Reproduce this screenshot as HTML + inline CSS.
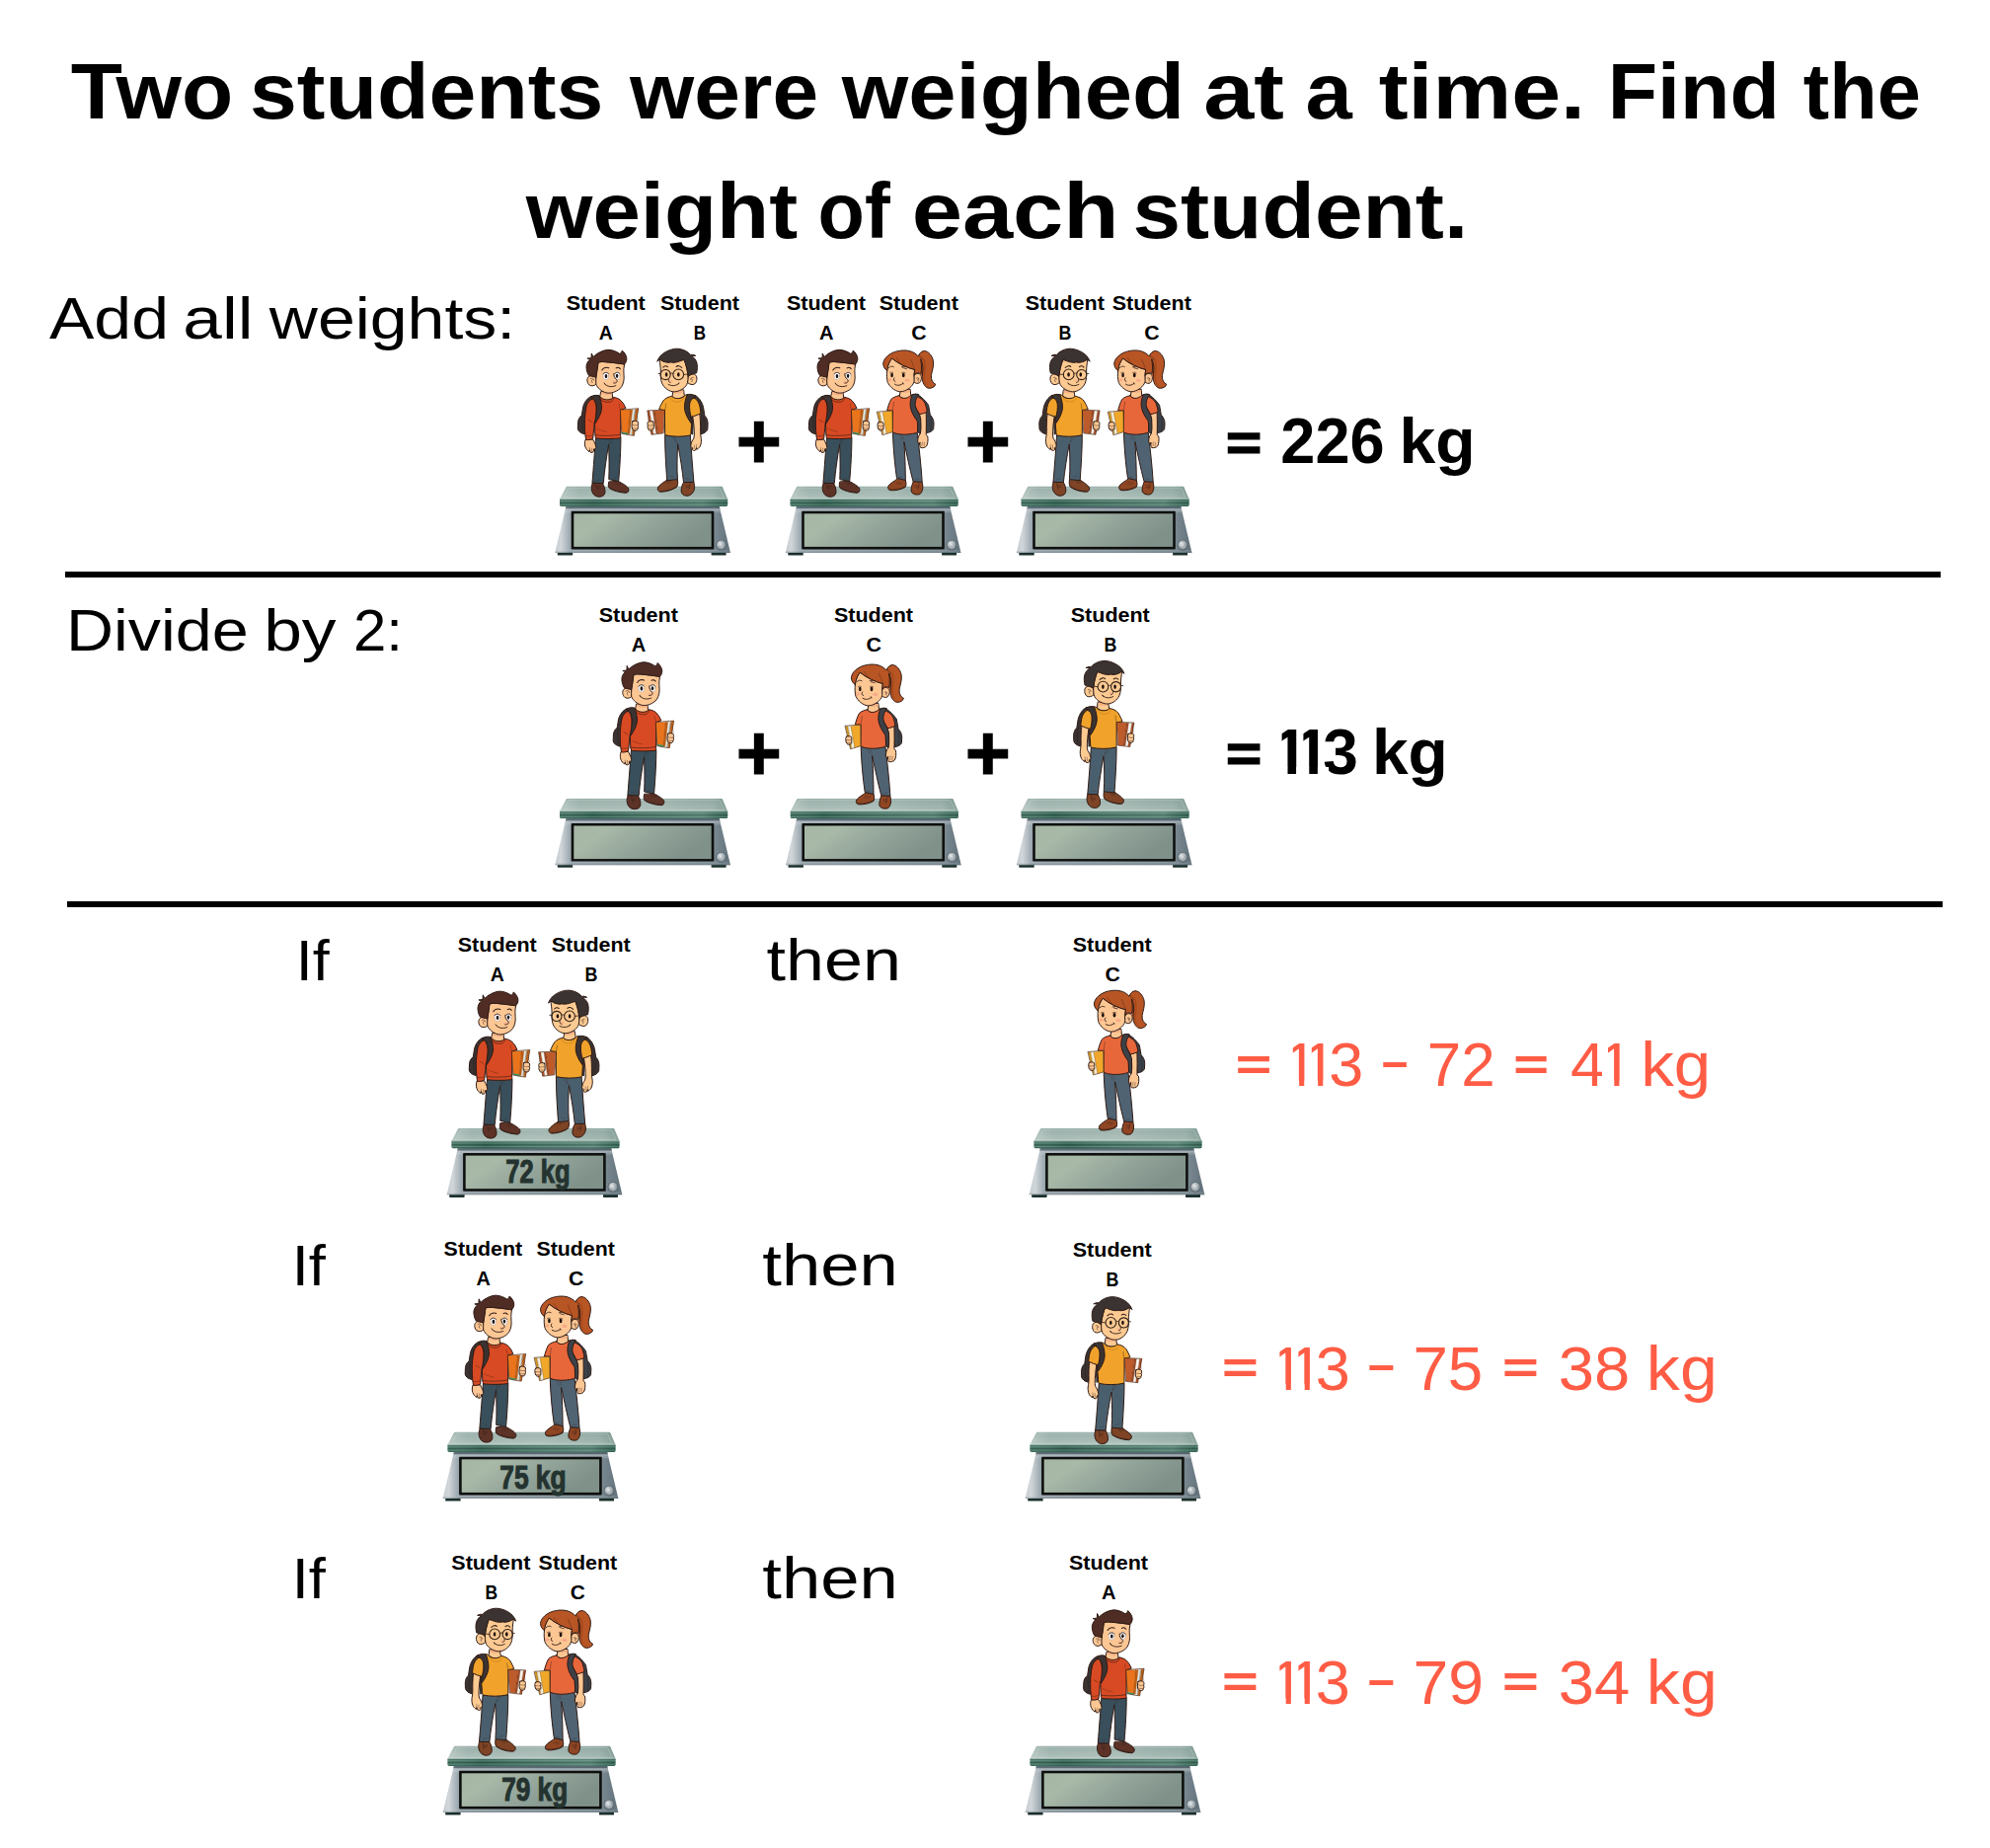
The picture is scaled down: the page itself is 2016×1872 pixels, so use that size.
<!DOCTYPE html><html><head><meta charset="utf-8"><title>Two students were weighed at a time</title>
<style>html,body{margin:0;padding:0;background:#fff}body{width:2016px;height:1872px;overflow:hidden}svg{display:block}text{font-family:"Liberation Sans", sans-serif;white-space:pre}</style></head><body>
<svg width="2016" height="1872" viewBox="0 0 2016 1872">
<defs><linearGradient id="gTop" x1="0" y1="0" x2="0" y2="1"><stop offset="0" stop-color="#92a9a4"/><stop offset=".15" stop-color="#9ab0aa"/><stop offset=".8" stop-color="#a8bbb5"/><stop offset="1" stop-color="#b5c6c1"/></linearGradient>
<linearGradient id="gTopH" x1="0" y1="0" x2="1" y2="0"><stop offset="0" stop-color="#fff" stop-opacity=".22"/><stop offset=".12" stop-color="#fff" stop-opacity=".02"/><stop offset=".55" stop-color="#fff" stop-opacity=".08"/><stop offset=".9" stop-color="#2c5a4e" stop-opacity=".05"/><stop offset="1" stop-color="#2c5a4e" stop-opacity=".25"/></linearGradient>
<linearGradient id="gEdge" x1="0" y1="0" x2="0" y2="1"><stop offset="0" stop-color="#4f7d6e"/><stop offset=".14" stop-color="#2f5c4d"/><stop offset=".3" stop-color="#63907f"/><stop offset=".46" stop-color="#2d594a"/><stop offset=".6" stop-color="#2b5647"/><stop offset=".76" stop-color="#5d8b7b"/><stop offset=".9" stop-color="#315e4f"/><stop offset="1" stop-color="#3b6858"/></linearGradient>
<linearGradient id="gEdgeH" x1="0" y1="0" x2="1" y2="0"><stop offset="0" stop-color="#9fc0b5" stop-opacity=".1"/><stop offset=".2" stop-color="#1f4a3d" stop-opacity=".2"/><stop offset=".5" stop-color="#9fc0b5" stop-opacity=".15"/><stop offset=".85" stop-color="#9fc0b5" stop-opacity=".3"/><stop offset="1" stop-color="#2f5b4c" stop-opacity=".2"/></linearGradient>
<linearGradient id="gBase" x1="0" y1="0" x2="1" y2="0"><stop offset="0" stop-color="#c6cdd1"/><stop offset=".035" stop-color="#d0d6da"/><stop offset=".09" stop-color="#98a5ac"/><stop offset=".5" stop-color="#8a98a0"/><stop offset=".9" stop-color="#7b8a92"/><stop offset=".96" stop-color="#6c7b84"/><stop offset="1" stop-color="#5f6f78"/></linearGradient>
<linearGradient id="gBaseV" x1="0" y1="0" x2="0" y2="1"><stop offset="0" stop-color="#4c5d66" stop-opacity=".85"/><stop offset=".055" stop-color="#4c5d66" stop-opacity=".75"/><stop offset=".075" stop-color="#c4ccd1" stop-opacity=".6"/><stop offset=".11" stop-color="#c4ccd1" stop-opacity=".35"/><stop offset=".16" stop-color="#fff" stop-opacity="0"/><stop offset=".93" stop-color="#fff" stop-opacity="0"/><stop offset="1" stop-color="#44545d" stop-opacity=".45"/></linearGradient>
<linearGradient id="gLcd" x1="0" y1="0" x2="1" y2=".35"><stop offset="0" stop-color="#a5b6a5"/><stop offset=".25" stop-color="#a8b9a8"/><stop offset=".6" stop-color="#93a49a"/><stop offset="1" stop-color="#80918a"/></linearGradient>
<radialGradient id="gKnob" cx=".4" cy=".35" r=".75"><stop offset="0" stop-color="#e3e7e9"/><stop offset=".4" stop-color="#aeb7bc"/><stop offset=".8" stop-color="#838f96"/><stop offset="1" stop-color="#5f6c73"/></radialGradient>
<g id="scale">
 <rect x="2.8" y="66.6" width="15.4" height="3.3" rx=".6" fill="#1a2f2b"/>
 <rect x="158.6" y="66.6" width="15" height="3.3" rx=".6" fill="#1a2f2b"/>
 <path d="M11.6,19.5 L166.6,19.5 L178,67.3 L.2,67.3 Z" fill="url(#gBase)"/>
 <path d="M11.6,19.5 L166.6,19.5 L178,67.3 L.2,67.3 Z" fill="url(#gBaseV)"/>
 <rect x="16.7" y="25.1" width="144.6" height="38.6" rx=".8" fill="#0e100e"/>
 <rect x="19.3" y="27.6" width="139.4" height="33.6" fill="url(#gLcd)"/>
 <circle cx="168.6" cy="59.4" r="5.4" fill="#56636a"/>
 <circle cx="168.6" cy="59.4" r="4.6" fill="url(#gKnob)"/>
 <path d="M166.2,56.6 L171.2,62.2 M165.4,58.6 L169.6,63.2" stroke="#fff" stroke-opacity=".55" stroke-width=".7" fill="none"/>
 <path d="M12.4,0 Q11.8,0 11.5,.6 L5,13 L175.2,13 L169.9,.6 Q169.6,0 169,0 Z" fill="url(#gTop)"/>
 <path d="M12.4,0 Q11.8,0 11.5,.6 L5,13 L175.2,13 L169.9,.6 Q169.6,0 169,0 Z" fill="url(#gTopH)"/>
 <path d="M14.6,1.6 L167,1.6 L171.6,11.6 L9.2,11.6 Z" fill="none" stroke="#c9d9d4" stroke-opacity=".45" stroke-width=".8"/>
 <path d="M5,12.8 L175.2,12.8 L175.2,18.6 Q175.2,20.2 173.6,20.2 L6.6,20.2 Q5,20.2 5,18.6 Z" fill="url(#gEdge)"/>
 <path d="M5,12.8 L175.2,12.8 L175.2,18.6 Q175.2,20.2 173.6,20.2 L6.6,20.2 Q5,20.2 5,18.6 Z" fill="url(#gEdgeH)"/>
 <path d="M5,13 L175.2,13" stroke="#b9cdc7" stroke-width=".7" stroke-opacity=".8"/>
</g>
<g id="stuA" stroke="#2e1a14" stroke-width="23" stroke-linejoin="round" stroke-linecap="round">
 <g transform="translate(0,1732.5)">
  <path d="M470,1480 L702,1486 C738,1545 768,1625 762,1705 C756,1782 690,1810 610,1808 C520,1803 468,1740 450,1660 C436,1598 446,1540 470,1480 Z" fill="#5e3327"/>
  <path d="M848,1462 C834,1520 830,1572 862,1607 C940,1662 1100,1708 1252,1716 C1302,1712 1324,1670 1312,1615 C1280,1550 1150,1485 1068,1442 Z" fill="#5e3327"/>
  <path d="M548,1500 C560,1560 562,1610 580,1650 M560,1562 L650,1560 M570,1602 L645,1600 M1000,1492 L1062,1532 M1040,1477 L1102,1517 M1082,1466 L1140,1502 M870,1598 C960,1648 1100,1688 1250,1698" fill="none" stroke-width="11" stroke-opacity=".8"/>
  <path d="M545,425 C522,700 492,1100 462,1482 L722,1492 C748,1200 792,880 846,590 C858,880 860,1150 850,1400 L1078,1448 C1110,1100 1130,700 1130,425 Z" fill="#394f5b"/>
  <path d="M870,440 C868,500 862,540 850,578 M935,440 C935,500 915,545 878,562 M560,1422 C590,1412 620,1410 645,1412 M930,1392 C955,1378 985,1370 1005,1368" fill="none" stroke-width="9" stroke-opacity=".6"/>
 </g>
 <g transform="translate(0,924)">
  <path d="M440,265 C350,300 275,400 245,520 L215,715 C165,745 135,800 128,870 L122,1020 C135,1090 200,1130 285,1150 L300,700 L335,440 L470,320 Z" fill="#3a3332"/>
  <path d="M240,720 C225,820 225,950 240,1090" fill="none" stroke="#241c1b" stroke-width="12"/>
  <path d="M300,1285 C285,1340 280,1400 300,1450 C320,1500 350,1540 390,1560 L400,1520 L420,1575 C450,1590 480,1580 500,1545 L495,1500 C520,1500 545,1490 552,1470 C545,1420 530,1370 505,1330 L480,1280 Z" fill="#fdc794"/>
  <path d="M400,1470 L408,1540 M452,1480 L457,1560" fill="none" stroke-width="9"/>
 </g>
 <path d="M662,1085 L640,1195 C700,1300 880,1310 940,1230 L925,1095 Z" fill="#fdc794"/>
 <path d="M668,1120 C740,1165 850,1172 922,1138 L924,1100 L664,1092 Z" fill="#f0a57e" stroke="none" opacity=".75"/>
 <g transform="translate(0,924)">
  <path d="M640,268 C700,362 880,366 942,300 L962,285 C1020,298 1080,318 1110,345 C1180,400 1220,480 1245,545 L1128,582 L1125,1175 C1128,1210 1122,1235 1112,1245 C950,1264 730,1264 565,1250 C540,1230 530,1200 528,1170 L520,900 L500,700 L470,320 C520,290 570,268 618,252 Z" fill="#d84a23"/>
  <path d="M625,292 C690,402 800,412 880,396 C920,386 950,352 972,302 M535,1172 C700,1196 950,1190 1118,1160" fill="none" stroke-width="14"/>
  <path d="M575,1020 C640,1050 720,1085 800,1095 M1092,440 C1096,500 1110,560 1128,582" fill="none" stroke-width="10" stroke-opacity=".7"/>
  <path d="M440,268 C500,235 570,232 622,250 C655,330 690,450 682,560 C670,680 600,790 535,895 L500,855 C540,720 570,620 560,500 C550,410 520,350 470,318 Z" fill="#3a3332"/>
  <path d="M470,320 C400,350 340,420 325,500 C300,620 285,760 285,900 C285,1000 290,1100 300,1185 L315,1280 C370,1292 430,1277 478,1256 L485,1180 C495,1080 505,990 510,900 C540,800 560,650 555,520 C545,420 520,360 470,320 Z" fill="#d84a23"/>
  <path d="M298,1190 C360,1206 430,1196 485,1176 M370,815 C400,835 430,850 460,870" fill="none" stroke-width="11" stroke-opacity=".8"/>
  <path d="M1470,565 L1542,548 L1440,1185 L1392,1170 Z" fill="#c6671b" stroke="none"/>
  <path d="M1400,575 L1475,582 L1392,1168 L1332,1152 Z" fill="#ece8da" stroke="none"/>
  <path d="M1445,580 L1476,582 L1394,1166 L1372,1160 Z" fill="#aebbb6" stroke="none"/>
  <path d="M1340,580 L1402,575 L1335,1152 L1290,1142 Z" fill="#c65f10" stroke="none"/>
  <path d="M1125,580 L1345,578 L1295,1142 L1150,1100 Z" fill="#ea741c" stroke="none"/>
  <path d="M1150,1095 L1312,1125 L1306,1168 L1152,1135 Z" fill="#3c9a69" stroke="none"/>
  <path d="M1125,580 L1542,548 L1440,1185 L1306,1168 L1152,1135 L1150,1100 Z" fill="none" stroke="#4a2410" stroke-width="16"/>
  <path d="M1345,578 L1295,1142 M1402,575 L1335,1152 M1475,582 L1392,1168 M1478,600 L1535,830" fill="none" stroke="#6b3410" stroke-width="8"/>
  <path d="M1405,850 C1440,830 1500,835 1530,860 C1545,890 1540,920 1530,940 C1545,960 1540,1000 1525,1015 C1530,1040 1510,1065 1480,1065 C1440,1068 1405,1050 1395,1020 C1385,980 1385,900 1405,850 Z" fill="#fdc794"/>
  <path d="M1420,935 C1460,946 1500,946 1530,939 M1415,1010 C1450,1021 1490,1021 1522,1013" fill="none" stroke-width="10"/>
 </g>
 <path d="M548,738 C500,690 420,692 372,735 C325,785 340,880 395,925 C445,960 520,945 555,900 Z" fill="#fdc794"/>
 <path d="M420,778 C455,750 500,770 505,812 M472,792 C440,812 440,850 466,872" fill="none" stroke-width="12"/>
 <path d="M600,400 C585,480 570,600 552,740 C548,800 545,860 550,905 C580,990 680,1080 800,1108 C900,1125 1010,1090 1110,1010 C1170,950 1200,860 1205,770 C1205,700 1195,600 1200,540 L1215,440 C1100,420 900,395 700,380 Z" fill="#fdc794"/>
 <ellipse cx="975" cy="858" rx="46" ry="30" fill="#f29c82" stroke="none" opacity=".45"/>
 <ellipse cx="780" cy="712" rx="64" ry="86" fill="#fff" stroke="#8793a5" stroke-width="9"/>
 <ellipse cx="1048" cy="706" rx="60" ry="86" fill="#fff" stroke="#8793a5" stroke-width="9"/>
 <ellipse cx="785" cy="718" rx="30" ry="50" fill="#1c0f0c" stroke="none"/>
 <ellipse cx="1042" cy="712" rx="28" ry="48" fill="#1c0f0c" stroke="none"/>
 <path d="M716,664 C742,624 816,620 846,660 M992,656 C1016,620 1082,620 1106,666" fill="none" stroke-width="19"/>
 <path d="M688,578 C720,515 800,500 850,525 M1020,528 C1050,505 1090,510 1115,548" fill="none" stroke-width="24"/>
 <path d="M968,655 C950,700 985,760 1030,800 C1062,840 1035,885 965,880" fill="none" stroke-width="21"/>
 <path d="M752,897 C820,975 930,975 1012,940 M742,880 C748,895 756,905 768,910" fill="none" stroke-width="21"/>
 <path d="M548,742 C480,730 420,715 380,700 C345,650 322,560 324,490 C328,420 360,370 410,325 L345,303 L440,292 L445,185 L485,268 C560,190 700,110 830,100 C940,100 1040,150 1100,190 C1130,185 1150,160 1162,118 C1220,170 1265,240 1268,310 C1265,370 1240,410 1215,440 C1100,420 900,395 700,380 C660,380 625,390 600,400 C590,500 575,620 548,742 Z" fill="#4f2d25"/>
</g>
<g id="stuB" stroke="#2e1a14" stroke-width="23" stroke-linejoin="round" stroke-linecap="round">
 <g transform="translate(0,1732.5)">
  <path d="M512,1460 L746,1468 C790,1540 812,1620 800,1700 C780,1772 700,1792 640,1782 C560,1762 510,1700 495,1620 C485,1560 495,1510 512,1460 Z" fill="#7e4425"/>
  <path d="M888,1415 C878,1480 880,1540 910,1580 C1000,1642 1150,1692 1290,1692 C1345,1682 1367,1640 1350,1590 C1310,1520 1200,1460 1132,1408 Z" fill="#7e4425"/>
  <path d="M590,1480 C600,1540 605,1590 620,1630 M600,1545 L690,1545 M610,1585 L690,1585 M1045,1450 L1105,1492 M1085,1437 L1145,1478 M1125,1428 L1180,1465 M915,1572 C1000,1625 1150,1672 1290,1674" fill="none" stroke-width="11" stroke-opacity=".8"/>
  <path d="M590,370 C570,700 540,1100 508,1462 L748,1468 C775,1200 830,850 884,570 C900,850 905,1150 888,1402 L1136,1424 C1160,1100 1185,700 1185,370 Z" fill="#4a5f6e"/>
  <path d="M935,400 C935,450 925,500 905,542 M985,400 C990,460 960,510 918,522 M600,1395 C640,1385 670,1380 700,1378 M975,1350 C1010,1335 1040,1325 1060,1320" fill="none" stroke-width="9" stroke-opacity=".6"/>
 </g>
 <g transform="translate(0,924)">
  <path d="M480,240 C400,280 320,380 285,520 L255,720 C205,760 185,820 180,900 L185,1030 C200,1090 260,1130 340,1150 L350,700 L365,520 L500,300 Z" fill="#3a3332"/>
  <path d="M280,730 C265,830 265,960 280,1090" fill="none" stroke="#241c1b" stroke-width="12"/>
  <path d="M500,700 L610,700 L592,1150 L525,1165 Z" fill="#3a3332" stroke="none"/>
  <path d="M372,670 C355,800 350,950 355,1100 L345,1200 C325,1280 330,1370 365,1440 C390,1480 420,1500 440,1510 L445,1470 L470,1525 C500,1540 530,1535 545,1515 L540,1470 C560,1470 580,1450 580,1420 C570,1360 550,1300 510,1250 L498,1180 C495,1050 510,900 535,735 Z" fill="#fdca92"/>
  <path d="M445,1400 L450,1475 M495,1410 L500,1490" fill="none" stroke-width="9"/>
 </g>
 <path d="M745,1045 L730,1170 C800,1262 960,1272 1015,1200 L990,1050 Z" fill="#fdca92"/>
 <path d="M750,1085 C820,1130 920,1135 990,1100 L990,1060 L746,1052 Z" fill="#f0a57e" stroke="none" opacity=".7"/>
 <g transform="translate(0,924)">
  <path d="M700,232 C760,332 960,342 1020,262 C1100,275 1180,310 1225,370 C1270,440 1300,510 1322,565 L1188,600 L1185,1130 C1185,1150 1180,1165 1170,1175 C1000,1215 760,1215 600,1180 C580,1160 575,1130 575,1100 L560,900 L620,780 L700,500 L640,240 Z" fill="#f0a22b"/>
  <path d="M1160,440 C1165,500 1175,560 1188,600" fill="none" stroke-width="11" stroke-opacity=".8"/>
  <path d="M735,292 C790,395 900,412 980,380 C1015,362 1040,335 1052,312" fill="none" stroke="#b8741a" stroke-width="12"/>
  <path d="M480,245 C540,215 620,210 665,225 C700,320 735,440 725,560 C710,680 640,800 575,890 L545,850 C580,740 615,620 608,500 C600,400 565,335 505,300 Z" fill="#3a3332"/>
  <path d="M500,300 C430,340 380,420 365,520 L345,660 C420,700 500,730 572,746 C600,650 615,540 606,440 C595,370 560,320 500,300 Z" fill="#f0a22b"/>
  <path d="M1545,605 L1596,600 L1500,1162 L1450,1150 Z" fill="#b5552a" stroke="none"/>
  <path d="M1468,600 L1546,605 L1452,1152 L1388,1138 Z" fill="#f6f3ec" stroke="none"/>
  <path d="M1418,600 L1468,602 L1388,1138 L1340,1132 Z" fill="#a34b22" stroke="none"/>
  <path d="M1195,584 L1420,600 L1342,1132 L1228,1128 Z" fill="#be5b2b" stroke="none"/>
  <path d="M1195,582 L1596,598 L1500,1162 L1228,1130 Z" fill="none" stroke="#4a2410" stroke-width="16"/>
  <path d="M1420,600 L1342,1132 M1468,602 L1388,1138 M1546,605 L1452,1152 M1552,632 L1582,830" fill="none" stroke="#5a2a12" stroke-width="8"/>
  <path d="M1460,860 C1500,840 1560,845 1585,870 C1598,900 1592,930 1582,948 C1596,970 1590,1005 1575,1020 C1580,1045 1560,1065 1532,1065 C1495,1068 1462,1050 1452,1022 C1442,980 1442,905 1460,860 Z" fill="#fdca92"/>
  <path d="M1475,942 C1510,952 1550,952 1582,946 M1468,1015 C1500,1026 1540,1026 1572,1018" fill="none" stroke-width="10"/>
 </g>
 <path d="M640,720 C600,660 520,650 470,690 C420,740 430,850 490,900 C540,930 610,910 650,870 Z" fill="#fdca92"/>
 <path d="M520,748 C555,735 580,760 585,792 M562,772 C536,792 540,830 560,850" fill="none" stroke-width="12"/>
 <path d="M735,335 C700,420 665,540 650,660 C638,760 645,850 670,910 C730,1010 850,1075 960,1082 C1080,1085 1200,1000 1255,880 C1285,800 1290,700 1285,600 C1285,500 1300,420 1310,345 Z" fill="#fdca92"/>
 <ellipse cx="1045" cy="832" rx="42" ry="28" fill="#f29c82" stroke="none" opacity=".45"/>
 <ellipse cx="868" cy="682" rx="30" ry="50" fill="#1c0f0c" stroke="none"/>
 <ellipse cx="1150" cy="682" rx="30" ry="50" fill="#1c0f0c" stroke="none"/>
 <path d="M790,520 C830,470 890,465 920,495 M1120,500 C1150,470 1200,475 1225,510" fill="none" stroke-width="24"/>
 <path d="M1100,792 C1112,830 1092,860 1056,868" fill="none" stroke-width="20"/>
 <path d="M860,890 C930,952 1030,952 1105,910 M850,875 C855,890 865,898 876,902" fill="none" stroke-width="21"/>
 <g fill="none" stroke="#33241b" stroke-width="25">
  <circle cx="870" cy="680" r="124"/>
  <path d="M1062,640 A118,118 0 1 0 1282,640 A118,118 0 0 0 1062,640"/>
  <path d="M992,660 C1015,640 1045,640 1066,662 M746,682 L645,668 M1280,655 L1335,657" stroke-width="20"/>
 </g>
 <path d="M640,722 C600,690 520,650 445,645 C425,560 420,470 440,400 C455,340 500,290 560,238 L465,240 C510,215 560,210 585,218 C650,140 760,85 880,75 C1010,70 1140,120 1250,205 C1310,260 1350,320 1365,375 C1345,350 1315,335 1290,335 C1240,380 1150,400 1075,400 L1090,378 C1020,415 920,400 830,365 C790,350 760,340 735,335 C700,420 665,540 640,722 Z" fill="#3b3331"/>
</g>
<g id="stuC" stroke="#2e1a14" stroke-width="23" stroke-linejoin="round" stroke-linecap="round">
 <g transform="translate(0,1732.5)">
  <path d="M668,1390 C600,1440 510,1490 465,1545 C440,1590 455,1640 500,1655 C600,1670 760,1640 860,1580 C885,1540 880,1470 862,1420 Z" fill="#8f4623"/>
  <path d="M1045,1450 C1010,1540 985,1620 1000,1690 C1030,1752 1130,1772 1200,1746 C1260,1700 1275,1600 1265,1530 L1248,1460 Z" fill="#8f4623"/>
  <path d="M700,1455 L640,1500 M740,1470 L690,1515 M780,1480 L735,1525 M470,1630 C600,1650 760,1620 862,1562 M1090,1540 L1180,1545 M1085,1585 L1180,1590 M1180,1480 C1175,1540 1165,1590 1150,1630" fill="none" stroke-width="11" stroke-opacity=".8"/>
  <path d="M565,320 C575,650 610,1050 658,1372 L862,1420 C860,1100 850,800 828,520 C890,800 960,1150 1040,1448 L1252,1462 C1230,1100 1180,650 1140,320 Z" fill="#4f6373"/>
  <path d="M740,380 C745,430 755,460 780,482 M800,380 C800,430 815,455 832,472 M700,1350 C730,1345 750,1345 775,1350 M1085,1395 C1120,1390 1150,1390 1175,1395" fill="none" stroke-width="9" stroke-opacity=".6"/>
 </g>
 <g transform="translate(0,924)">
  <path d="M1100,215 C1180,222 1300,330 1400,470 L1440,700 C1500,760 1525,830 1525,900 L1518,1030 C1490,1085 1430,1112 1350,1122 L1300,640 L1250,450 L1110,262 Z" fill="#3c4148"/>
  <path d="M1448,720 C1462,820 1462,950 1448,1075" fill="none" stroke="#23272c" stroke-width="12"/>
  <path d="M1192,688 C1215,800 1225,950 1200,1150 C1160,1200 1140,1280 1150,1340 L1185,1400 L1200,1340 C1195,1400 1200,1440 1215,1465 C1260,1480 1320,1465 1355,1430 C1385,1380 1395,1280 1380,1200 L1345,1170 C1350,1000 1350,800 1345,640 Z" fill="#fdc794"/>
  <path d="M1255,1335 L1247,1420 M1302,1345 L1297,1430" fill="none" stroke-width="9"/>
 </g>
 <path d="M745,1050 L722,1180 C780,1262 920,1262 990,1185 L975,1030 Z" fill="#fdc794"/>
 <path d="M748,1085 C820,1120 910,1115 978,1075 L976,1040 L746,1055 Z" fill="#f0a57e" stroke="none" opacity=".7"/>
 <g transform="translate(0,924)">
  <path d="M715,248 C745,322 880,346 995,238 L1060,230 L1150,850 L1150,1105 C1090,1135 980,1155 860,1158 C750,1160 600,1140 560,1100 L565,605 L430,595 C450,520 480,420 525,335 C570,290 640,262 715,248 Z" fill="#e8673a"/>
  <path d="M592,400 C580,470 570,540 565,605" fill="none" stroke-width="11" stroke-opacity=".8"/>
  <path d="M1105,262 C1200,285 1280,350 1320,430 C1345,500 1360,570 1368,625 C1310,660 1250,675 1190,685 C1150,600 1070,500 1030,400 Z" fill="#e8673a"/>
  <path d="M1020,228 C1060,205 1130,205 1172,222 C1110,300 1080,400 1090,480 C1110,580 1185,665 1218,790 L1225,1000 L1212,1135 L1150,1105 C1150,1000 1145,900 1135,840 C1060,740 990,620 975,500 C965,400 985,300 1020,228 Z" fill="#3c4148"/>
  <path d="M200,630 L256,640 L346,1135 L322,1162 Z" fill="#d6961c" stroke="none"/>
  <path d="M256,640 L328,634 L418,1134 L346,1135 Z" fill="#efe6c8" stroke="none"/>
  <path d="M290,637 L328,634 L418,1134 L385,1134 Z" fill="#fbf6e6" stroke="none"/>
  <path d="M328,634 L556,602 L560,1100 L418,1134 Z" fill="#f0a72a" stroke="none"/>
  <path d="M200,628 L556,600 L560,1100 L330,1168 Z" fill="none" stroke="#4a2c10" stroke-width="16"/>
  <path d="M256,640 L346,1135 M328,634 L418,1134" fill="none" stroke="#5a3a12" stroke-width="8"/>
  <path d="M225,880 C260,860 320,865 345,890 C355,930 350,960 345,975 C355,1000 350,1030 335,1045 C320,1065 280,1070 255,1060 C225,1040 210,1000 212,960 C205,930 210,900 225,880 Z" fill="#fdc794"/>
  <path d="M216,958 C260,968 310,968 346,960 M225,1025 C260,1035 305,1035 338,1028" fill="none" stroke-width="10"/>
 </g>
 <path d="M1065,700 C1100,650 1170,640 1210,680 C1250,730 1240,820 1190,870 C1150,900 1090,890 1060,850 Z" fill="#fdc794"/>
 <path d="M1120,762 C1150,740 1180,760 1176,792 M1160,772 C1140,800 1150,830 1170,842" fill="none" stroke-width="12"/>
 <path d="M545,300 C480,380 440,470 432,570 C420,680 425,800 445,860 C490,960 600,1060 720,1080 C830,1085 950,1020 1020,930 C1050,890 1062,860 1065,820 L1060,680 C1070,640 1075,600 1078,565 C900,520 700,430 545,300 Z" fill="#fdc794"/>
 <ellipse cx="495" cy="805" rx="50" ry="34" fill="#f6957e" stroke="none" opacity=".6"/>
 <ellipse cx="905" cy="815" rx="56" ry="35" fill="#f6957e" stroke="none" opacity=".6"/>
 <ellipse cx="545" cy="692" rx="30" ry="52" fill="#1c0f0c" stroke="none"/>
 <ellipse cx="815" cy="692" rx="32" ry="52" fill="#1c0f0c" stroke="none"/>
 <path d="M498,640 C520,622 548,620 568,632 M772,640 C800,620 832,620 858,642" fill="none" stroke-width="13"/>
 <path d="M468,524 C500,482 550,476 586,498 M772,502 L850,482 M802,522 L888,546" fill="none" stroke-width="18"/>
 <path d="M602,758 C575,790 580,830 622,842" fill="none" stroke-width="19"/>
 <path d="M610,905 C670,952 760,932 805,885 M800,870 C810,880 815,890 815,900" fill="none" stroke-width="21"/>
 <path d="M1195,300 L1280,420 L1275,620 L1262,770 L1235,720 L1215,665 Z" fill="#b85524" stroke="none"/>
 <path d="M432,590 C380,560 345,500 340,430 C345,330 430,230 560,170 C680,115 850,95 980,135 C1060,160 1120,205 1160,250 C1180,190 1240,130 1300,125 C1400,130 1480,230 1510,350 C1535,470 1480,600 1465,700 C1455,800 1500,880 1565,905 C1560,950 1500,1000 1420,1000 C1330,995 1275,900 1255,800 C1245,700 1275,600 1268,500 C1262,420 1240,360 1215,320 C1240,420 1245,540 1225,655 C1180,640 1130,640 1100,650 L1065,700 L1078,565 C900,520 700,430 545,300 C480,380 440,480 432,590 Z" fill="#b85524"/>
 <path d="M1300,280 C1345,420 1340,560 1318,700 C1305,800 1330,900 1400,960 C1340,930 1290,860 1282,780 C1278,680 1300,590 1296,480 C1294,400 1280,330 1300,280 Z" fill="#9c4319" stroke="none" opacity=".7"/>
 <path d="M655,285 C690,350 730,410 765,446 M985,325 C1020,400 1055,490 1078,562 M1168,248 C1200,262 1240,300 1255,345 M1190,232 C1225,250 1262,290 1275,330" fill="none" stroke-width="10" stroke-opacity=".8"/>
</g>
</defs>
<rect x="66" y="579" width="1900" height="6" fill="#000"/><rect x="68" y="913" width="1900" height="6" fill="#000"/>
<use href="#scale" x="562.0" y="492.7"/>
<use href="#scale" x="795.5" y="492.7"/>
<use href="#scale" x="1029.5" y="492.7"/>
<use href="#scale" x="562.0" y="808.9"/>
<use href="#scale" x="795.7" y="808.9"/>
<use href="#scale" x="1029.5" y="808.9"/>
<use href="#scale" x="452.4" y="1143.0"/>
<use href="#scale" x="1042.4" y="1143.0"/>
<use href="#scale" x="448.4" y="1450.7"/>
<use href="#scale" x="1038.4" y="1450.7"/>
<use href="#scale" x="448.4" y="1768.7"/>
<use href="#scale" x="1038.4" y="1768.7"/>
<use href="#stuA" transform="translate(580.0,350.0) scale(0.04329,0.04329)"/>
<use href="#stuB" transform="translate(724.9,350.0) scale(-0.04329,0.04329)"/>
<use href="#stuA" transform="translate(814.0,350.0) scale(0.04329,0.04329)"/>
<use href="#stuC" transform="translate(880.0,350.0) scale(0.04329,0.04329)"/>
<use href="#stuB" transform="translate(1045.0,350.0) scale(0.04329,0.04329)"/>
<use href="#stuC" transform="translate(1114.0,350.0) scale(0.04329,0.04329)"/>
<use href="#stuA" transform="translate(615.9,666.4) scale(0.04329,0.04329)"/>
<use href="#stuC" transform="translate(847.7,668.1) scale(0.04329,0.04329)"/>
<use href="#stuB" transform="translate(1079.8,666.2) scale(0.04329,0.04329)"/>
<use href="#stuA" transform="translate(470.0,999.8) scale(0.04329,0.04329)"/>
<use href="#stuB" transform="translate(614.7,999.9) scale(-0.04329,0.04329)"/>
<use href="#stuC" transform="translate(1093.7,998.3) scale(0.04329,0.04329)"/>
<use href="#stuA" transform="translate(465.9,1307.8) scale(0.04329,0.04329)"/>
<use href="#stuC" transform="translate(532.8,1308.1) scale(0.04329,0.04329)"/>
<use href="#stuB" transform="translate(1087.7,1310.4) scale(0.04329,0.04329)"/>
<use href="#stuB" transform="translate(463.5,1626.0) scale(0.04329,0.04329)"/>
<use href="#stuC" transform="translate(532.8,1626.1) scale(0.04329,0.04329)"/>
<use href="#stuA" transform="translate(1092.3,1626.5) scale(0.04329,0.04329)"/>
<defs><mask id="m1" maskUnits="userSpaceOnUse" x="0" y="0" width="2016" height="1872"><rect width="2016" height="1872" fill="#fff"/><rect x="1292.36" y="777.00" width="12.13" height="8.90" fill="#000"/><rect x="1313.05" y="777.00" width="11.24" height="8.90" fill="#000"/><rect x="1292.36" y="732.70" width="6.24" height="44.30" fill="#000"/><rect x="1314.16" y="777.00" width="12.13" height="8.90" fill="#000"/><rect x="1334.85" y="777.00" width="11.24" height="8.90" fill="#000"/><rect x="1314.16" y="732.70" width="6.24" height="44.30" fill="#000"/><rect x="1303.77" y="1094.71" width="12.34" height="7.29" fill="#000"/><rect x="1321.25" y="1094.71" width="11.58" height="7.29" fill="#000"/><rect x="1303.77" y="1049.60" width="6.03" height="45.11" fill="#000"/><rect x="1322.77" y="1094.71" width="12.34" height="7.29" fill="#000"/><rect x="1340.25" y="1094.71" width="11.58" height="7.29" fill="#000"/><rect x="1322.77" y="1049.60" width="6.03" height="45.11" fill="#000"/><rect x="1622.97" y="1094.71" width="12.34" height="7.29" fill="#000"/><rect x="1640.45" y="1094.71" width="11.58" height="7.29" fill="#000"/><rect x="1622.97" y="1049.60" width="6.03" height="45.11" fill="#000"/><rect x="1290.37" y="1402.31" width="12.34" height="7.29" fill="#000"/><rect x="1307.85" y="1402.31" width="11.58" height="7.29" fill="#000"/><rect x="1290.37" y="1357.20" width="6.03" height="45.11" fill="#000"/><rect x="1309.37" y="1402.31" width="12.34" height="7.29" fill="#000"/><rect x="1326.85" y="1402.31" width="11.58" height="7.29" fill="#000"/><rect x="1309.37" y="1357.20" width="6.03" height="45.11" fill="#000"/><rect x="1290.37" y="1720.51" width="12.34" height="7.29" fill="#000"/><rect x="1307.85" y="1720.51" width="11.58" height="7.29" fill="#000"/><rect x="1290.37" y="1675.40" width="6.03" height="45.11" fill="#000"/><rect x="1309.37" y="1720.51" width="12.34" height="7.29" fill="#000"/><rect x="1326.85" y="1720.51" width="11.58" height="7.29" fill="#000"/><rect x="1309.37" y="1675.40" width="6.03" height="45.11" fill="#000"/></mask></defs>
<text font-size="80" font-weight="bold" fill="#000"><tspan x="71.67" y="120.00" textLength="164.63" lengthAdjust="spacingAndGlyphs">Two</tspan> <tspan x="252.94" y="120.00" textLength="358.29" lengthAdjust="spacingAndGlyphs">students</tspan> <tspan x="638.05" y="120.00" textLength="191.05" lengthAdjust="spacingAndGlyphs">were</tspan> <tspan x="852.77" y="120.00" textLength="347.32" lengthAdjust="spacingAndGlyphs">weighed</tspan> <tspan x="1219.15" y="120.00" textLength="81.65" lengthAdjust="spacingAndGlyphs">at</tspan> <tspan x="1322.50" y="120.00" textLength="47.26" lengthAdjust="spacingAndGlyphs">a</tspan> <tspan x="1396.65" y="120.00" textLength="209.31" lengthAdjust="spacingAndGlyphs">time.</tspan> <tspan x="1628.67" y="120.00" textLength="174.18" lengthAdjust="spacingAndGlyphs">Find</tspan> <tspan x="1826.85" y="120.00" textLength="118.98" lengthAdjust="spacingAndGlyphs">the</tspan></text>
<text font-size="80" font-weight="bold" fill="#000"><tspan x="532.88" y="240.50" textLength="275.32" lengthAdjust="spacingAndGlyphs">weight</tspan> <tspan x="828.62" y="240.50" textLength="73.18" lengthAdjust="spacingAndGlyphs">of</tspan> <tspan x="923.66" y="240.50" textLength="209.97" lengthAdjust="spacingAndGlyphs">each</tspan> <tspan x="1147.42" y="240.50" textLength="339.84" lengthAdjust="spacingAndGlyphs">student.</tspan></text>
<text font-size="59.5" font-weight="normal" fill="#000"><tspan x="50.00" y="343.20" textLength="120.97" lengthAdjust="spacingAndGlyphs">Add</tspan> <tspan x="185.37" y="343.20" textLength="71.10" lengthAdjust="spacingAndGlyphs">all</tspan> <tspan x="272.82" y="343.20" textLength="249.33" lengthAdjust="spacingAndGlyphs">weights:</tspan></text>
<text font-size="59.5" font-weight="normal" fill="#000"><tspan x="67.06" y="659.40" textLength="184.68" lengthAdjust="spacingAndGlyphs">Divide</tspan> <tspan x="267.20" y="659.40" textLength="73.41" lengthAdjust="spacingAndGlyphs">by</tspan> <tspan x="357.97" y="659.40" textLength="50.01" lengthAdjust="spacingAndGlyphs">2:</tspan></text>
<text font-size="19.6" font-weight="bold" fill="#000"><tspan x="573.74" y="313.50" textLength="80.05" lengthAdjust="spacingAndGlyphs">Student</tspan> <tspan x="606.84" y="343.50" textLength="14.05" lengthAdjust="spacingAndGlyphs">A</tspan></text>
<text font-size="19.6" font-weight="bold" fill="#000"><tspan x="668.92" y="313.50" textLength="80.04" lengthAdjust="spacingAndGlyphs">Student</tspan> <tspan x="702.69" y="343.50" textLength="12.35" lengthAdjust="spacingAndGlyphs">B</tspan></text>
<text font-size="19.6" font-weight="bold" fill="#000"><tspan x="796.92" y="313.50" textLength="80.04" lengthAdjust="spacingAndGlyphs">Student</tspan> <tspan x="829.98" y="343.50" textLength="14.49" lengthAdjust="spacingAndGlyphs">A</tspan></text>
<text font-size="19.6" font-weight="bold" fill="#000"><tspan x="890.73" y="313.50" textLength="80.09" lengthAdjust="spacingAndGlyphs">Student</tspan> <tspan x="923.24" y="343.50" textLength="15.39" lengthAdjust="spacingAndGlyphs">C</tspan></text>
<text font-size="19.6" font-weight="bold" fill="#000"><tspan x="1038.73" y="313.50" textLength="80.09" lengthAdjust="spacingAndGlyphs">Student</tspan> <tspan x="1072.48" y="343.50" textLength="12.92" lengthAdjust="spacingAndGlyphs">B</tspan></text>
<text font-size="19.6" font-weight="bold" fill="#000"><tspan x="1126.73" y="313.50" textLength="80.09" lengthAdjust="spacingAndGlyphs">Student</tspan> <tspan x="1159.24" y="343.50" textLength="15.39" lengthAdjust="spacingAndGlyphs">C</tspan></text>
<text font-size="19.6" font-weight="bold" fill="#000"><tspan x="606.73" y="629.90" textLength="80.09" lengthAdjust="spacingAndGlyphs">Student</tspan> <tspan x="639.83" y="659.90" textLength="14.49" lengthAdjust="spacingAndGlyphs">A</tspan></text>
<text font-size="19.6" font-weight="bold" fill="#000"><tspan x="844.92" y="629.90" textLength="80.04" lengthAdjust="spacingAndGlyphs">Student</tspan> <tspan x="877.40" y="659.90" textLength="15.52" lengthAdjust="spacingAndGlyphs">C</tspan></text>
<text font-size="19.6" font-weight="bold" fill="#000"><tspan x="1084.74" y="629.90" textLength="80.05" lengthAdjust="spacingAndGlyphs">Student</tspan> <tspan x="1118.38" y="659.90" textLength="12.91" lengthAdjust="spacingAndGlyphs">B</tspan></text>
<text font-size="19.6" font-weight="bold" fill="#000"><tspan x="463.74" y="963.50" textLength="80.05" lengthAdjust="spacingAndGlyphs">Student</tspan> <tspan x="496.84" y="993.50" textLength="14.05" lengthAdjust="spacingAndGlyphs">A</tspan></text>
<text font-size="19.6" font-weight="bold" fill="#000"><tspan x="558.74" y="963.50" textLength="80.05" lengthAdjust="spacingAndGlyphs">Student</tspan> <tspan x="592.38" y="993.50" textLength="12.91" lengthAdjust="spacingAndGlyphs">B</tspan></text>
<text font-size="19.6" font-weight="bold" fill="#000"><tspan x="1086.74" y="963.50" textLength="80.05" lengthAdjust="spacingAndGlyphs">Student</tspan> <tspan x="1119.50" y="993.50" textLength="15.38" lengthAdjust="spacingAndGlyphs">C</tspan></text>
<text font-size="19.6" font-weight="bold" fill="#000"><tspan x="449.63" y="1271.70" textLength="79.57" lengthAdjust="spacingAndGlyphs">Student</tspan> <tspan x="482.54" y="1301.70" textLength="14.33" lengthAdjust="spacingAndGlyphs">A</tspan></text>
<text font-size="19.6" font-weight="bold" fill="#000"><tspan x="543.42" y="1271.70" textLength="79.38" lengthAdjust="spacingAndGlyphs">Student</tspan> <tspan x="575.90" y="1301.70" textLength="15.38" lengthAdjust="spacingAndGlyphs">C</tspan></text>
<text font-size="19.6" font-weight="bold" fill="#000"><tspan x="1086.74" y="1273.40" textLength="80.05" lengthAdjust="spacingAndGlyphs">Student</tspan> <tspan x="1120.38" y="1303.40" textLength="12.91" lengthAdjust="spacingAndGlyphs">B</tspan></text>
<text font-size="19.6" font-weight="bold" fill="#000"><tspan x="457.39" y="1589.50" textLength="79.99" lengthAdjust="spacingAndGlyphs">Student</tspan> <tspan x="491.41" y="1619.50" textLength="12.65" lengthAdjust="spacingAndGlyphs">B</tspan></text>
<text font-size="19.6" font-weight="bold" fill="#000"><tspan x="545.63" y="1589.50" textLength="79.57" lengthAdjust="spacingAndGlyphs">Student</tspan> <tspan x="577.73" y="1619.50" textLength="15.07" lengthAdjust="spacingAndGlyphs">C</tspan></text>
<text font-size="19.6" font-weight="bold" fill="#000"><tspan x="1082.92" y="1589.50" textLength="80.04" lengthAdjust="spacingAndGlyphs">Student</tspan> <tspan x="1115.98" y="1619.50" textLength="14.49" lengthAdjust="spacingAndGlyphs">A</tspan></text>
<text font-size="80" font-weight="bold" fill="#000"><tspan x="745.82" y="473.70" textLength="46.08" lengthAdjust="spacingAndGlyphs" stroke="#000" stroke-width="1.2">+</tspan></text>
<text font-size="80" font-weight="bold" fill="#000"><tspan x="977.82" y="473.70" textLength="46.08" lengthAdjust="spacingAndGlyphs" stroke="#000" stroke-width="1.2">+</tspan></text>
<text font-size="80" font-weight="bold" fill="#000"><tspan x="745.82" y="789.80" textLength="46.08" lengthAdjust="spacingAndGlyphs" stroke="#000" stroke-width="1.2">+</tspan></text>
<text font-size="80" font-weight="bold" fill="#000"><tspan x="977.82" y="789.80" textLength="46.08" lengthAdjust="spacingAndGlyphs" stroke="#000" stroke-width="1.2">+</tspan></text>
<text font-size="64" font-weight="bold" fill="#000"><tspan x="1242.16" y="466.05" textLength="35.68" lengthAdjust="spacingAndGlyphs" stroke="#000" stroke-width="1.75" font-size="51.8">=</tspan> <tspan x="1297.32" y="469.40" textLength="105.20" lengthAdjust="spacingAndGlyphs">226</tspan> <tspan x="1417.50" y="469.40" textLength="77.17" lengthAdjust="spacingAndGlyphs">kg</tspan></text>
<text font-size="64" font-weight="bold" fill="#000" mask="url(#m1)"><tspan x="1242.16" y="780.55" textLength="35.68" lengthAdjust="spacingAndGlyphs" stroke="#000" stroke-width="1.75" font-size="51.8">=</tspan> <tspan x="1289.39 1311.19 1340.36" y="783.90">113</tspan> <tspan x="1389.91" y="783.90" textLength="76.85" lengthAdjust="spacingAndGlyphs">kg</tspan></text>
<text font-size="58" font-weight="normal" fill="#000"><tspan x="299.76" y="993.30" textLength="33.94" lengthAdjust="spacingAndGlyphs">If</tspan></text>
<text font-size="58" font-weight="normal" fill="#000"><tspan x="295.74" y="1301.50" textLength="34.14" lengthAdjust="spacingAndGlyphs">If</tspan></text>
<text font-size="58" font-weight="normal" fill="#000"><tspan x="295.74" y="1619.20" textLength="34.14" lengthAdjust="spacingAndGlyphs">If</tspan></text>
<text font-size="60" font-weight="normal" fill="#000"><tspan x="776.60" y="993.30" textLength="136.33" lengthAdjust="spacingAndGlyphs">then</tspan></text>
<text font-size="60" font-weight="normal" fill="#000"><tspan x="772.36" y="1301.50" textLength="137.39" lengthAdjust="spacingAndGlyphs">then</tspan></text>
<text font-size="60" font-weight="normal" fill="#000"><tspan x="772.36" y="1619.20" textLength="137.39" lengthAdjust="spacingAndGlyphs">then</tspan></text>
<text font-size="63" font-weight="normal" fill="#ff5c45" mask="url(#m1)"><tspan x="1252.44" y="1093.55" textLength="35.15" lengthAdjust="spacingAndGlyphs" stroke="#ff5c45" stroke-width="1.9" font-size="46.2">=</tspan> <tspan x="1299.98 1318.98 1346.21" y="1100.00">113</tspan> <tspan x="1396.97" y="1094.80" textLength="32.16" lengthAdjust="spacingAndGlyphs">-</tspan> <tspan x="1445.70" y="1100.00" textLength="68.94" lengthAdjust="spacingAndGlyphs">72</tspan> <tspan x="1534.13" y="1093.55" textLength="34.37" lengthAdjust="spacingAndGlyphs" stroke="#ff5c45" stroke-width="1.9" font-size="46.2">=</tspan> <tspan x="1590.95 1619.18" y="1100.00">41</tspan> <tspan x="1662.17" y="1100.00" textLength="70.99" lengthAdjust="spacingAndGlyphs">kg</tspan></text>
<text font-size="63" font-weight="normal" fill="#ff5c45" mask="url(#m1)"><tspan x="1238.73" y="1401.15" textLength="35.38" lengthAdjust="spacingAndGlyphs" stroke="#ff5c45" stroke-width="1.9" font-size="46.2">=</tspan> <tspan x="1286.58 1305.58 1332.81" y="1407.60">113</tspan> <tspan x="1383.02" y="1402.40" textLength="32.69" lengthAdjust="spacingAndGlyphs">-</tspan> <tspan x="1431.43" y="1407.60" textLength="70.86" lengthAdjust="spacingAndGlyphs">75</tspan> <tspan x="1522.73" y="1401.15" textLength="35.38" lengthAdjust="spacingAndGlyphs" stroke="#ff5c45" stroke-width="1.9" font-size="46.2">=</tspan> <tspan x="1578.79" y="1407.60" textLength="72.56" lengthAdjust="spacingAndGlyphs">38</tspan> <tspan x="1667.86" y="1407.60" textLength="71.96" lengthAdjust="spacingAndGlyphs">kg</tspan></text>
<text font-size="63" font-weight="normal" fill="#ff5c45" mask="url(#m1)"><tspan x="1238.73" y="1719.35" textLength="35.38" lengthAdjust="spacingAndGlyphs" stroke="#ff5c45" stroke-width="1.9" font-size="46.2">=</tspan> <tspan x="1286.58 1305.58 1332.81" y="1725.80">113</tspan> <tspan x="1383.02" y="1720.60" textLength="32.69" lengthAdjust="spacingAndGlyphs">-</tspan> <tspan x="1431.55" y="1725.80" textLength="71.52" lengthAdjust="spacingAndGlyphs">79</tspan> <tspan x="1522.73" y="1719.35" textLength="35.38" lengthAdjust="spacingAndGlyphs" stroke="#ff5c45" stroke-width="1.9" font-size="46.2">=</tspan> <tspan x="1578.83" y="1725.80" textLength="72.48" lengthAdjust="spacingAndGlyphs">34</tspan> <tspan x="1667.86" y="1725.80" textLength="71.96" lengthAdjust="spacingAndGlyphs">kg</tspan></text>
<text font-size="33" font-weight="bold" fill="#24332f"><tspan x="512.33" y="1197.90" textLength="65.17" lengthAdjust="spacingAndGlyphs" stroke="#24332f" stroke-width="1.1">72 kg</tspan></text>
<text font-size="33" font-weight="bold" fill="#24332f"><tspan x="506.25" y="1507.90" textLength="67.33" lengthAdjust="spacingAndGlyphs" stroke="#24332f" stroke-width="1.1">75 kg</tspan></text>
<text font-size="33" font-weight="bold" fill="#24332f"><tspan x="508.27" y="1823.70" textLength="66.85" lengthAdjust="spacingAndGlyphs" stroke="#24332f" stroke-width="1.1">79 kg</tspan></text>
</svg></body></html>
